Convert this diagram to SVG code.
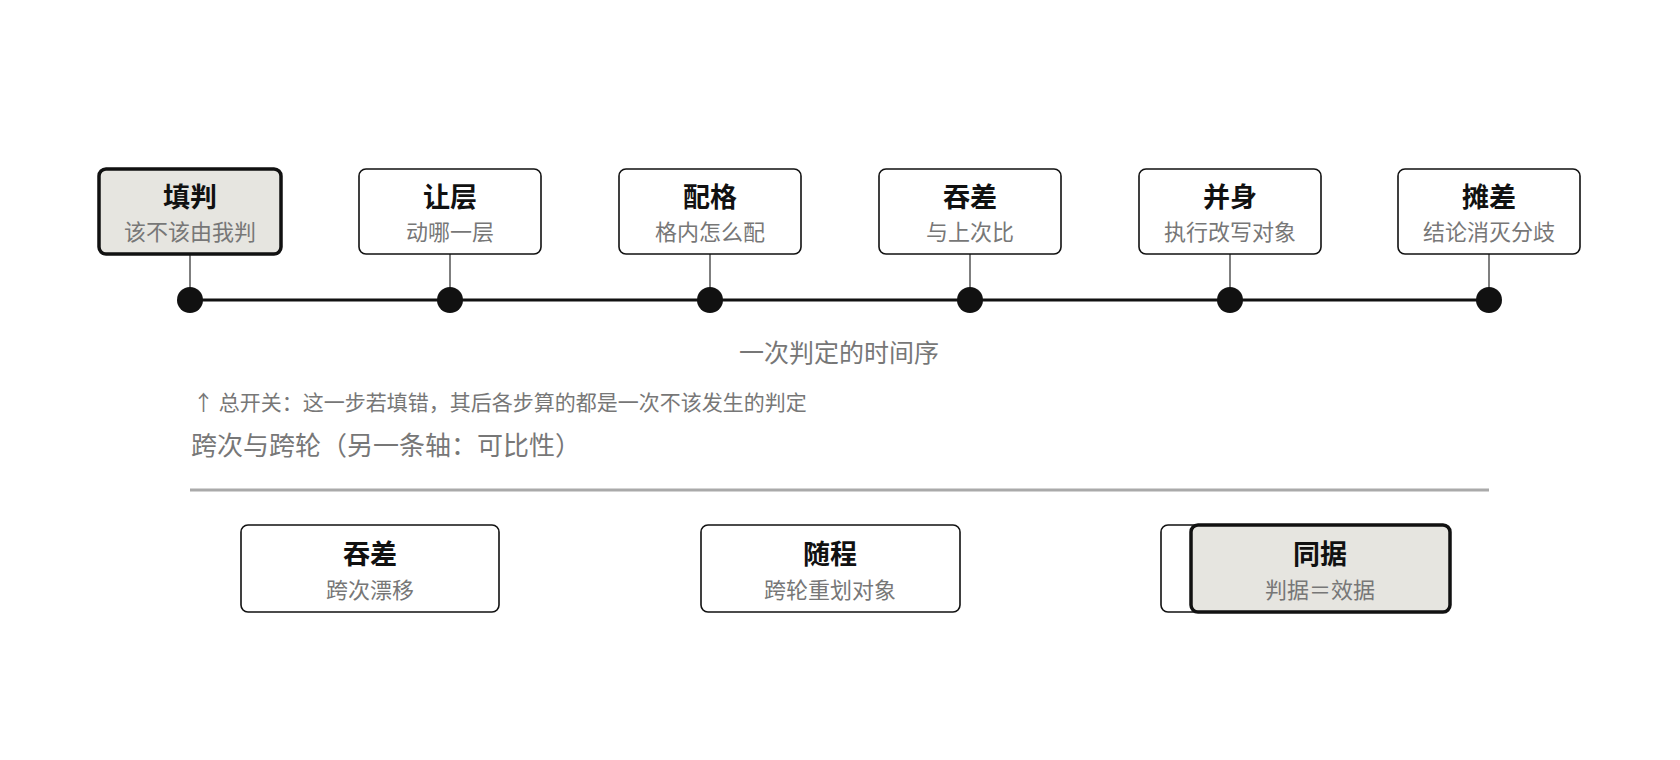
<svg xmlns="http://www.w3.org/2000/svg" width="1680" height="760" viewBox="0 0 1680 760">
<style>
.b{fill:#fff;stroke:#111;stroke-width:1.6}
.h{fill:#e6e5e0;stroke:#111;stroke-width:3.5}
.t{font-family:"Noto Sans CJK SC",sans-serif;font-weight:700;font-size:27px;fill:#111;text-anchor:middle}
.s{font-family:"Noto Sans CJK SC",sans-serif;font-size:22px;fill:#777;text-anchor:middle}
.g{font-family:"Noto Sans CJK SC",sans-serif;fill:#777}
.st{stroke:#555;stroke-width:1.5}
.d{fill:#111}
</style>
<rect width="1680" height="760" fill="#fff"/>
<g id="connectors">
<line x1="190" y1="300" x2="1489" y2="300" stroke="#111" stroke-width="3"/>
<line class="st" x1="190" y1="254" x2="190" y2="300"/>
<line class="st" x1="450" y1="254" x2="450" y2="300"/>
<line class="st" x1="710" y1="254" x2="710" y2="300"/>
<line class="st" x1="970" y1="254" x2="970" y2="300"/>
<line class="st" x1="1230" y1="254" x2="1230" y2="300"/>
<line class="st" x1="1489" y1="254" x2="1489" y2="300"/>
<circle class="d" cx="190" cy="300" r="13"/>
<circle class="d" cx="450" cy="300" r="13"/>
<circle class="d" cx="710" cy="300" r="13"/>
<circle class="d" cx="970" cy="300" r="13"/>
<circle class="d" cx="1230" cy="300" r="13"/>
<circle class="d" cx="1489" cy="300" r="13"/>
</g>
<g id="n1"><rect class="h" x="99" y="169" width="182" height="85" rx="7"/><text class="t" x="190" y="207">填判</text><text class="s" x="190" y="240">该不该由我判</text></g>
<g id="n2"><rect class="b" x="359" y="169" width="182" height="85" rx="7"/><text class="t" x="450" y="207">让层</text><text class="s" x="450" y="240">动哪一层</text></g>
<g id="n3"><rect class="b" x="619" y="169" width="182" height="85" rx="7"/><text class="t" x="710" y="207">配格</text><text class="s" x="710" y="240">格内怎么配</text></g>
<g id="n4"><rect class="b" x="879" y="169" width="182" height="85" rx="7"/><text class="t" x="970" y="207">吞差</text><text class="s" x="970" y="240">与上次比</text></g>
<g id="n5"><rect class="b" x="1139" y="169" width="182" height="85" rx="7"/><text class="t" x="1230" y="207">并身</text><text class="s" x="1230" y="240">执行改写对象</text></g>
<g id="n6"><rect class="b" x="1398" y="169" width="182" height="85" rx="7"/><text class="t" x="1489" y="207">摊差</text><text class="s" x="1489" y="240">结论消灭分歧</text></g>
<text class="g" x="839" y="362" font-size="25" text-anchor="middle">一次判定的时间序</text>
<text class="g" x="193" y="410" font-size="21">↑ 总开关：这一步若填错，其后各步算的都是一次不该发生的判定</text>
<text class="g" x="191" y="455" font-size="26">跨次与跨轮（另一条轴：可比性）</text>
<line x1="190" y1="490" x2="1489" y2="490" stroke="#aaa" stroke-width="3"/>
<g id="m1"><rect class="b" x="241" y="525" width="258" height="87" rx="7"/><text class="t" x="370" y="564">吞差</text><text class="s" x="370" y="598">跨次漂移</text></g>
<g id="m2"><rect class="b" x="701" y="525" width="259" height="87" rx="7"/><text class="t" x="830" y="564">随程</text><text class="s" x="830" y="598">跨轮重划对象</text></g>
<g id="m3"><rect class="b" x="1161" y="525" width="259" height="87" rx="7"/><rect class="h" x="1191" y="525" width="259" height="87" rx="7"/><text class="t" x="1320" y="564">同据</text><text class="s" x="1320" y="598">判据＝效据</text></g>
</svg>
